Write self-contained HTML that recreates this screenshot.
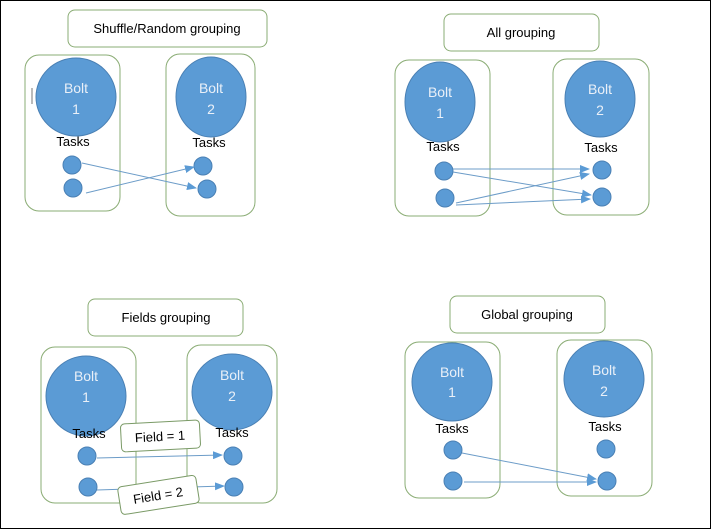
<!DOCTYPE html>
<html><head><meta charset="utf-8"><style>
html,body{margin:0;padding:0;background:#fff}
svg{display:block}
text{font-family:"Liberation Sans",sans-serif;font-size:13px}
.b{fill:#eaf0f8;text-anchor:middle;font-size:14px}
.t{fill:#000;text-anchor:middle}
.c{fill:none;stroke:#8aac74;stroke-width:1}
.e{fill:#5b9bd5;stroke:#4a80b4;stroke-width:1}
.a{stroke:#6c9cc8;stroke-width:1;fill:none;marker-end:url(#m)}
</style></head><body>
<svg width="712" height="530" viewBox="0 0 712 530">
<defs><marker id="m" markerWidth="10" markerHeight="8" refX="9" refY="4" orient="auto" markerUnits="userSpaceOnUse"><path d="M0,0 L10,4 L0,8 z" fill="#5b9bd5"/></marker></defs>
<rect x="0.5" y="0.5" width="710" height="528" fill="#fff" stroke="#000"/>

<!-- Q1 -->
<rect class="c" x="68" y="10" width="199" height="37" rx="7"/>
<text class="t" x="167" y="33">Shuffle/Random grouping</text>
<rect class="c" x="25" y="55" width="95" height="156" rx="14"/>
<rect class="c" x="166" y="54" width="89" height="162" rx="14"/>
<line x1="32" y1="88" x2="32" y2="104" stroke="#777"/>
<ellipse class="e" cx="76" cy="97" rx="40" ry="39"/>
<text class="b" x="76" y="93">Bolt</text><text class="b" x="76" y="114">1</text>
<ellipse class="e" cx="211" cy="97" rx="35" ry="40"/>
<text class="b" x="211" y="93">Bolt</text><text class="b" x="211" y="114">2</text>
<text class="t" x="73" y="146">Tasks</text><text class="t" x="209" y="147">Tasks</text>
<circle class="e" cx="72" cy="165" r="9"/><circle class="e" cx="73" cy="188" r="9"/>
<circle class="e" cx="203" cy="166" r="9"/><circle class="e" cx="207" cy="189" r="9"/>
<line class="a" x1="82" y1="163" x2="196" y2="188"/>
<line class="a" x1="86" y1="193" x2="194" y2="167"/>

<!-- Q2 -->
<rect class="c" x="444" y="14" width="155" height="37" rx="7"/>
<text class="t" x="521" y="37">All grouping</text>
<rect class="c" x="395" y="60" width="95" height="156" rx="14"/>
<rect class="c" x="553" y="59" width="96" height="156" rx="14"/>
<ellipse class="e" cx="440" cy="102" rx="35" ry="40"/>
<text class="b" x="440" y="97">Bolt</text><text class="b" x="440" y="118">1</text>
<ellipse class="e" cx="600" cy="99" rx="35" ry="38"/>
<text class="b" x="600" y="94">Bolt</text><text class="b" x="600" y="115">2</text>
<text class="t" x="443" y="151">Tasks</text><text class="t" x="601" y="152">Tasks</text>
<circle class="e" cx="444" cy="171" r="9"/><circle class="e" cx="445" cy="198" r="9"/>
<circle class="e" cx="602" cy="170" r="9"/><circle class="e" cx="602" cy="197" r="9"/>
<line class="a" x1="453" y1="169" x2="589" y2="169"/>
<line class="a" x1="453" y1="172" x2="591" y2="195"/>
<line class="a" x1="456" y1="203" x2="589" y2="174"/>
<line class="a" x1="456" y1="205" x2="590" y2="199"/>

<!-- Q3 -->
<rect class="c" x="88" y="299" width="155" height="37" rx="7"/>
<text class="t" x="166" y="322">Fields grouping</text>
<rect class="c" x="41" y="347" width="95" height="156" rx="14"/>
<rect class="c" x="187" y="345" width="90" height="158" rx="14"/>
<ellipse class="e" cx="86" cy="396" rx="40" ry="40"/>
<text class="b" x="86" y="381">Bolt</text><text class="b" x="86" y="402">1</text>
<ellipse class="e" cx="232" cy="392" rx="40" ry="38"/>
<text class="b" x="232" y="380">Bolt</text><text class="b" x="232" y="401">2</text>
<text class="t" x="89" y="438">Tasks</text><text class="t" x="232" y="437">Tasks</text>
<circle class="e" cx="87" cy="456" r="9"/><circle class="e" cx="88" cy="487" r="9"/>
<circle class="e" cx="233" cy="456" r="9"/><circle class="e" cx="234" cy="487" r="9"/>
<line class="a" x1="97" y1="458" x2="222" y2="455"/>
<line class="a" x1="97" y1="490" x2="224" y2="486"/>
<g transform="rotate(-3 160 436)">
<rect x="121" y="422" width="79" height="28" rx="4" fill="#fff" stroke="#7a9a66"/>
<text class="t" x="160" y="441">Field = 1</text></g>
<g transform="rotate(-9 158 495)">
<rect x="119" y="481" width="79" height="28" rx="4" fill="#fff" stroke="#7a9a66"/>
<text class="t" x="158" y="500">Field = 2</text></g>

<!-- Q4 -->
<rect class="c" x="450" y="296" width="155" height="37" rx="7"/>
<text class="t" x="527" y="319">Global grouping</text>
<rect class="c" x="405" y="342" width="95" height="156" rx="14"/>
<rect class="c" x="557" y="340" width="95" height="156" rx="14"/>
<ellipse class="e" cx="452" cy="382" rx="40" ry="39"/>
<text class="b" x="452" y="377">Bolt</text><text class="b" x="452" y="397">1</text>
<ellipse class="e" cx="604" cy="379" rx="40" ry="38"/>
<text class="b" x="604" y="375">Bolt</text><text class="b" x="604" y="396">2</text>
<text class="t" x="452" y="433">Tasks</text><text class="t" x="605" y="431">Tasks</text>
<circle class="e" cx="453" cy="450" r="9"/><circle class="e" cx="453" cy="481" r="9"/>
<circle class="e" cx="606" cy="449" r="9"/><circle class="e" cx="607" cy="481" r="9"/>
<line class="a" x1="462" y1="453" x2="596" y2="479"/>
<line class="a" x1="464" y1="482" x2="596" y2="482"/>
</svg>
</body></html>
